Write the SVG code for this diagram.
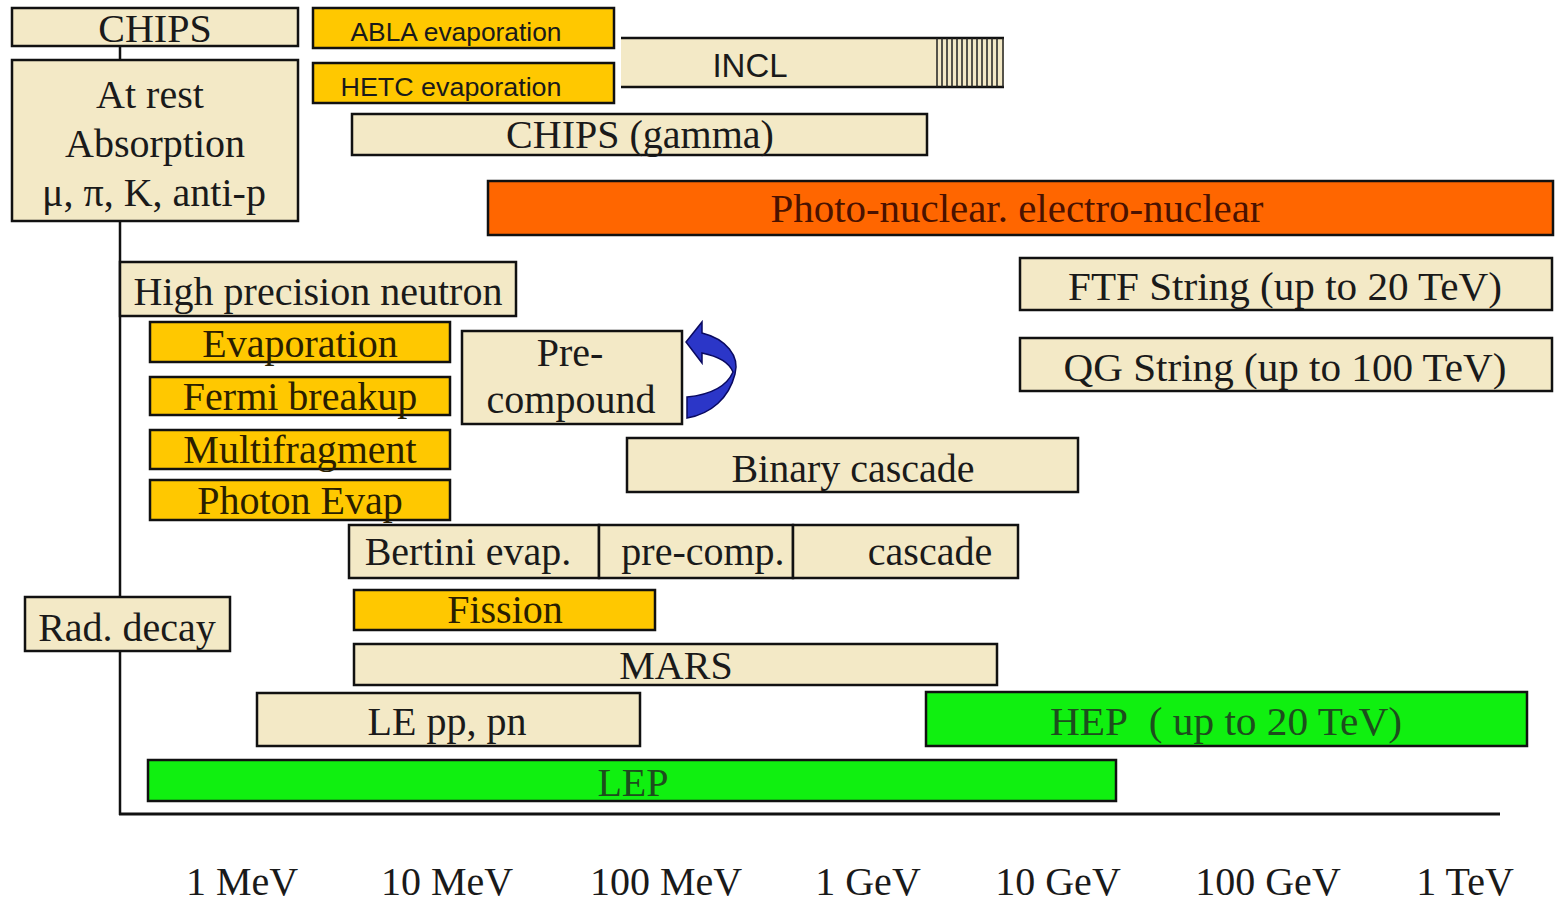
<svg xmlns="http://www.w3.org/2000/svg" width="1558" height="901" viewBox="0 0 1558 901">
<style>
.b{fill:#F3E9C6;stroke:#111;stroke-width:2.5}
.g{fill:#FFC800;stroke:#111;stroke-width:2.5}
.o{fill:#FF6600;stroke:#111;stroke-width:2.5}
.gr{fill:#10F010;stroke:#111;stroke-width:2.5}
.t{font-family:"Liberation Serif","Times New Roman",serif;font-size:40px;fill:#1a1a1a;text-anchor:middle}
.s{font-family:"Liberation Sans",Arial,sans-serif;font-size:26px;fill:#1a1a1a;text-anchor:middle}
.ln{stroke:#111;stroke-width:2.5;fill:none}
</style>
<rect width="1558" height="901" fill="#fff"/>
<g id="connectors">
<line class="ln" x1="120" y1="46" x2="120" y2="60"/>
<line class="ln" x1="120" y1="221" x2="120" y2="815"/>
<line x1="119" y1="814" x2="1500" y2="814" stroke="#111" stroke-width="3"/>
<path id="loop-arrow" d="M702,333 C726,339 740,356 735,374 C729,398 711,414 687,418 L687,397 C707,395 726,388 733,372 C729,362 717,356 702,353 L702,363 L686,342 L702,322 Z" fill="#2B36C8" stroke="#0A0A60" stroke-width="1.5"/>
</g>
<g id="chips"><rect class="b" x="12" y="8" width="286" height="38"/><text class="t" x="155" y="42">CHIPS</text></g>
<g id="atrest"><rect class="b" x="12" y="60" width="286" height="161"/>
<text class="t" x="150" y="108">At rest</text>
<text class="t" x="155" y="157">Absorption</text>
<text class="t" x="154" y="206">μ, π, K, anti-p</text></g>
<g id="abla"><rect class="g" x="313" y="8" width="301" height="40"/><text class="s" x="456" y="41" textLength="211" lengthAdjust="spacingAndGlyphs">ABLA evaporation</text></g>
<g id="hetc"><rect class="g" x="313" y="63" width="301" height="40"/><text class="s" x="451" y="96" textLength="221" lengthAdjust="spacingAndGlyphs">HETC  evaporation</text></g>
<g id="incl">
<rect x="621" y="38" width="383" height="49" fill="#F3E9C6"/>
<line class="ln" x1="621" y1="38" x2="1004" y2="38"/>
<line class="ln" x1="621" y1="87" x2="1004" y2="87"/>
<path d="M937,38V87M942,38V87M947,38V87M952,38V87M957,38V87M962,38V87M967,38V87M972,38V87M977,38V87M982,38V87M987,38V87M992,38V87M997,38V87M1003,38V87" stroke="#222" stroke-width="1.5"/>
<text class="s" x="750" y="77" style="font-size:33px">INCL</text></g>
<g id="chipsgamma"><rect class="b" x="352" y="114" width="575" height="41"/><text class="t" x="640" y="148">CHIPS (gamma)</text></g>
<g id="photonuclear"><rect class="o" x="488" y="181" width="1065" height="54"/><text class="t" x="1017" y="222" style="fill:#4a1200" textLength="493" lengthAdjust="spacingAndGlyphs">Photo-nuclear. electro-nuclear</text></g>
<g id="hpn"><rect class="b" x="120" y="262" width="396" height="54"/><text class="t" x="318" y="305">High precision neutron</text></g>
<g id="evaporation"><rect class="g" x="150" y="322" width="300" height="40"/><text class="t" x="300" y="357" style="fill:#2a1e00">Evaporation</text></g>
<g id="fermi"><rect class="g" x="150" y="377" width="300" height="38"/><text class="t" x="300" y="410" style="fill:#2a1e00">Fermi breakup</text></g>
<g id="multifragment"><rect class="g" x="150" y="430" width="300" height="39"/><text class="t" x="300" y="463" style="fill:#2a1e00">Multifragment</text></g>
<g id="photonevap"><rect class="g" x="150" y="480" width="300" height="40"/><text class="t" x="300" y="514" style="fill:#2a1e00">Photon Evap</text></g>
<g id="precompound"><rect class="b" x="462" y="331" width="220" height="93"/>
<text class="t" x="570" y="366">Pre-</text><text class="t" x="571" y="413">compound</text></g>
<g id="ftf"><rect class="b" x="1020" y="258" width="532" height="52"/><text class="t" x="1285" y="300" textLength="434" lengthAdjust="spacingAndGlyphs">FTF String (up to 20 TeV)</text></g>
<g id="qg"><rect class="b" x="1020" y="338" width="532" height="53"/><text class="t" x="1285" y="381" textLength="443" lengthAdjust="spacingAndGlyphs">QG String (up to 100 TeV)</text></g>
<g id="binary"><rect class="b" x="627" y="438" width="451" height="54"/><text class="t" x="853" y="482">Binary cascade</text></g>
<g id="bertini-evap"><rect class="b" x="349" y="525" width="250" height="53"/><text class="t" x="468" y="565">Bertini evap.</text></g>
<g id="bertini-precomp"><rect class="b" x="599" y="525" width="194" height="53"/><text class="t" x="703" y="565">pre-comp.</text></g>
<g id="bertini-cascade"><rect class="b" x="793" y="525" width="225" height="53"/><text class="t" x="930" y="565">cascade</text></g>
<g id="fission"><rect class="g" x="354" y="590" width="301" height="40"/><text class="t" x="505" y="623" style="fill:#2a1e00">Fission</text></g>
<g id="raddecay"><rect class="b" x="25" y="597" width="205" height="54"/><text class="t" x="127" y="641">Rad. decay</text></g>
<g id="mars"><rect class="b" x="354" y="644" width="643" height="41"/><text class="t" x="676" y="679">MARS</text></g>
<g id="lepp"><rect class="b" x="257" y="693" width="383" height="53"/><text class="t" x="447" y="735">LE pp, pn</text></g>
<g id="hep"><rect class="gr" x="926" y="692" width="601" height="54"/><text class="t" x="1226" y="735" style="fill:#1d4d1d" textLength="352" lengthAdjust="spacingAndGlyphs">HEP&#160; (&#160;up to 20 TeV)</text></g>
<g id="lep"><rect class="gr" x="148" y="760" width="968" height="41"/><text class="t" x="633" y="796" style="fill:#1d4d1d">LEP</text></g>
<g id="axis-labels">
<text class="t" x="242" y="895">1 MeV</text>
<text class="t" x="447" y="895">10 MeV</text>
<text class="t" x="666" y="895">100 MeV</text>
<text class="t" x="868" y="895">1 GeV</text>
<text class="t" x="1058" y="895">10 GeV</text>
<text class="t" x="1268" y="895">100 GeV</text>
<text class="t" x="1465" y="895">1 TeV</text>
</g>
</svg>
